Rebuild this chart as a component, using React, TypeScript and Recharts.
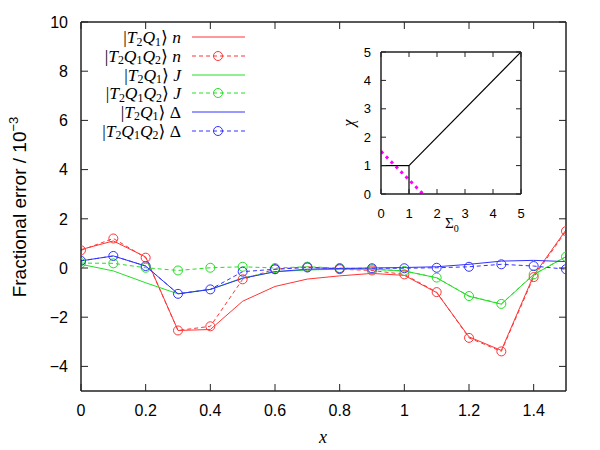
import React from 'react';
import { LineChart, Line, XAxis, YAxis } from 'recharts';

// x positions of the samples
const xs = [0, 0.1, 0.2, 0.3, 0.4, 0.5, 0.6, 0.7, 0.8, 0.9, 1.0, 1.1, 1.2, 1.3, 1.4, 1.5];

// fractional error / 1e-3
const nQ1 = [0.75, 1.1, 0.45, -2.54, -2.5, -1.35, -0.75, -0.45, -0.32, -0.22, -0.3, -1.0, -2.8, -3.35, -0.3, 1.55];
const nQ1Q2 = [0.72, 1.2, 0.42, -2.54, -2.37, -0.46, -0.05, 0.05, -0.05, -0.1, -0.26, -0.98, -2.84, -3.39, -0.37, 1.5];
const jQ1 = [0.15, -0.12, -0.6, -1.05, -0.87, -0.4, -0.15, -0.08, -0.05, -0.05, -0.12, -0.4, -1.15, -1.47, -0.27, 0.46];
const jQ1Q2 = [0.2, 0.19, 0.01, -0.1, 0.01, 0.05, 0.0, 0.05, 0.0, -0.05, -0.12, -0.39, -1.14, -1.46, -0.26, 0.46];
const dQ1 = [0.29, 0.49, 0.08, -1.05, -0.87, -0.42, -0.15, -0.05, -0.02, 0.0, 0.02, 0.05, 0.15, 0.28, 0.31, 0.26];
const dQ1Q2 = [0.29, 0.49, 0.08, -1.05, -0.87, -0.15, -0.05, 0.02, -0.02, -0.01, -0.01, 0.01, 0.05, 0.15, 0.08, -0.05];

const xTicks = [0, 0.2, 0.4, 0.6, 0.8, 1, 1.2, 1.4];
const yTicks = [-4, -2, 0, 2, 4, 6, 8, 10];

// inset: chi vs Sigma_0
const insetTicks = [0, 1, 2, 3, 4, 5];
const boxTop = [{ s: 0, c: 1 }, { s: 1, c: 1 }];
const boxSide = [{ s: 1, c: 0 }, { s: 1, c: 1 }];
const diagonal = [{ s: 1, c: 1 }, { s: 5, c: 5 }];
const magenta = [{ s: 0, c: 1.5 }, { s: 1.5, c: 0 }];

const data = xs.map((x, i) => ({
  x,
  nQ1: nQ1[i],
  nQ1Q2: nQ1Q2[i],
  jQ1: jQ1[i],
  jQ1Q2: jQ1Q2[i],
  dQ1: dQ1[i],
  dQ1Q2: dQ1Q2[i],
}));

const RED = '#ff3535';
const GREEN = '#22e022';
const BLUE = '#3333ff';
const AXIS = '#222';
const SANS = '"Liberation Sans", Arial, sans-serif';
const SERIF = '"Liberation Serif", "DejaVu Serif", serif';

const series = [
  { key: 'nQ1', color: RED, dashed: false, tri: 'Q1', sym: 'n' },
  { key: 'nQ1Q2', color: RED, dashed: true, tri: 'Q1Q2', sym: 'n' },
  { key: 'jQ1', color: GREEN, dashed: false, tri: 'Q1', sym: 'J' },
  { key: 'jQ1Q2', color: GREEN, dashed: true, tri: 'Q1Q2', sym: 'J' },
  { key: 'dQ1', color: BLUE, dashed: false, tri: 'Q1', sym: 'Δ' },
  { key: 'dQ1Q2', color: BLUE, dashed: true, tri: 'Q1Q2', sym: 'Δ' },
];

const circleDot = (color: string) => (props: any) => {
  const { cx, cy, index } = props;
  if (cx == null || cy == null) return <g key={index} />;
  return <circle key={index} cx={cx} cy={cy} r={4.5} fill="none" stroke={color} strokeWidth={1} />;
};

// tick renderers (ticks point inward, gnuplot style)
const makeXTick = (len: number, labelDy: number, size: number, showLabel: boolean, dir: number) => (props: any) => {
  const { x, y, payload } = props;
  return (
    <g>
      <line x1={x} y1={y} x2={x} y2={y + dir * len} stroke={AXIS} strokeWidth={1} />
      {showLabel && (
        <text x={x} y={y + labelDy} textAnchor="middle" fontFamily={SANS} fontSize={size} fill="#000">
          {payload.value}
        </text>
      )}
    </g>
  );
};

const makeYTick = (len: number, labelDx: number, size: number, showLabel: boolean, dir: number) => (props: any) => {
  const { x, y, payload } = props;
  return (
    <g>
      <line x1={x} y1={y} x2={x + dir * len} y2={y} stroke={AXIS} strokeWidth={1} />
      {showLabel && (
        <text x={x - labelDx} y={y} dy="0.36em" textAnchor="end" fontFamily={SANS} fontSize={size} fill="#000">
          {String(payload.value).replace('-', '−')}
        </text>
      )}
    </g>
  );
};

const LegendLabel = ({ tri, sym }: { tri: string; sym: string }) => {
  const sub = { fontSize: '0.68em', position: 'relative', top: '0.2em', lineHeight: 0 } as React.CSSProperties;
  return (
    <span style={{ fontFamily: SERIF, fontSize: 17.5, lineHeight: '16px', whiteSpace: 'nowrap' }}>
      |<i>T</i>
      <span style={sub}>2</span>
      <i>Q</i>
      <span style={sub}>1</span>
      {tri === 'Q1Q2' && (
        <>
          <i>Q</i>
          <span style={sub}>2</span>
        </>
      )}
      ⟩ {sym === 'Δ' ? sym : <i>{sym}</i>}
    </span>
  );
};

const LegendBox = () => (
  <div style={{ position: 'absolute', left: 0, top: 28, width: 260 }}>
    {series.map((s) => (
      <div
        key={s.key}
        style={{ height: 18.7, display: 'flex', alignItems: 'center', justifyContent: 'flex-end', overflow: 'visible' }}
      >
        <LegendLabel tri={s.tri} sym={s.sym} />
        <svg width={64} height={18} style={{ marginLeft: 11, marginRight: 4, flex: 'none' }}>
          <line
            x1={0}
            y1={9}
            x2={53}
            y2={9}
            stroke={s.color}
            strokeWidth={1}
            strokeDasharray={s.dashed ? '4 3' : undefined}
          />
          {s.dashed && <circle cx={26} cy={9} r={4.5} fill="none" stroke={s.color} strokeWidth={1} />}
        </svg>
      </div>
    ))}
  </div>
);

const YLabel = () => (
  <text
    transform="translate(26,207) rotate(-90)"
    textAnchor="middle"
    fontFamily={SANS}
    fontSize={19}
    fill="#000"
  >
    Fractional error / 10
    <tspan dy={-8} fontSize={13}>
      −3
    </tspan>
  </text>
);

const Inset = () => (
  <div style={{ position: 'absolute', left: 341, top: 32, width: 190, height: 200 }}>
    <LineChart width={190} height={200} margin={{ top: 0, right: 0, bottom: 0, left: 0 }}>
      <XAxis
        xAxisId="b"
        type="number"
        dataKey="s"
        domain={[0, 5]}
        ticks={insetTicks}
        allowDataOverflow
        height={38}
        tickSize={0}
        tickMargin={0}
        axisLine={{ stroke: AXIS, strokeWidth: 1.5 }}
        tick={makeXTick(5, 24, 13, true, -1)}
      />
      <XAxis
        xAxisId="t"
        orientation="top"
        type="number"
        dataKey="s"
        domain={[0, 5]}
        ticks={insetTicks}
        allowDataOverflow
        height={20}
        tickSize={0}
        tickMargin={0}
        axisLine={{ stroke: AXIS, strokeWidth: 1.5 }}
        tick={makeXTick(5, 0, 13, false, 1)}
      />
      <YAxis
        yAxisId="l"
        type="number"
        domain={[0, 5]}
        ticks={insetTicks}
        allowDataOverflow
        width={40}
        tickSize={0}
        tickMargin={0}
        axisLine={{ stroke: AXIS, strokeWidth: 1.5 }}
        tick={makeYTick(5, 10, 13, true, 1)}
        label={{
          content: () => (
            <text
              transform="translate(13,91) rotate(-90)"
              textAnchor="middle"
              fontFamily={SERIF}
              fontStyle="italic"
              fontSize={16}
              fill="#000"
            >
              χ
            </text>
          ),
        }}
      />
      <YAxis
        yAxisId="r"
        orientation="right"
        type="number"
        domain={[0, 5]}
        ticks={insetTicks}
        allowDataOverflow
        width={10}
        tickSize={0}
        tickMargin={0}
        axisLine={{ stroke: AXIS, strokeWidth: 1.5 }}
        tick={makeYTick(5, 0, 13, false, -1)}
      />
      <Line xAxisId="b" yAxisId="l" data={magenta} dataKey="c" stroke="#ff00ff" strokeWidth={3} strokeDasharray="3 4" dot={false} isAnimationActive={false} />
      <Line xAxisId="b" yAxisId="l" data={boxTop} dataKey="c" stroke="#000" strokeWidth={1.2} dot={false} isAnimationActive={false} />
      <Line xAxisId="b" yAxisId="l" data={boxSide} dataKey="c" stroke="#000" strokeWidth={1.2} dot={false} isAnimationActive={false} />
      <Line xAxisId="b" yAxisId="l" data={diagonal} dataKey="c" stroke="#000" strokeWidth={1.2} dot={false} isAnimationActive={false} />
    </LineChart>
    <div
      style={{
        position: 'absolute',
        left: 104,
        top: 184,
        fontFamily: SERIF,
        fontSize: 15,
        lineHeight: '15px',
      }}
    >
      Σ<span style={{ fontSize: 10, position: 'relative', top: '0.35em' }}>0</span>
    </div>
  </div>
);

export default function App() {
  return (
    <div style={{ position: 'absolute', left: 0, top: 0, width: 600, height: 450, background: '#fff' }}>
      <LineChart width={600} height={450} data={data} margin={{ top: 0, right: 0, bottom: 0, left: 0 }}>
        <XAxis
          xAxisId="b"
          type="number"
          dataKey="x"
          domain={[0, 1.5]}
          ticks={xTicks}
          allowDataOverflow
          height={59}
          tickSize={0}
          tickMargin={0}
          axisLine={{ stroke: AXIS, strokeWidth: 1.5 }}
          tick={makeXTick(7, 25, 16, true, -1)}
          label={{
            content: () => (
              <text x={323} y={443} textAnchor="middle" fontFamily={SERIF} fontStyle="italic" fontSize={18} fill="#000">
                x
              </text>
            ),
          }}
        />
        <XAxis
          xAxisId="t"
          orientation="top"
          type="number"
          dataKey="x"
          domain={[0, 1.5]}
          ticks={xTicks}
          allowDataOverflow
          height={22}
          tickSize={0}
          tickMargin={0}
          axisLine={{ stroke: AXIS, strokeWidth: 1.5 }}
          tick={makeXTick(7, 0, 16, false, 1)}
        />
        <YAxis
          yAxisId="l"
          type="number"
          domain={[-5, 10]}
          ticks={yTicks}
          allowDataOverflow
          width={81}
          tickSize={0}
          tickMargin={0}
          axisLine={{ stroke: AXIS, strokeWidth: 1.5 }}
          tick={makeYTick(7, 13, 16, true, 1)}
          label={{ content: () => <YLabel /> }}
        />
        <YAxis
          yAxisId="r"
          orientation="right"
          type="number"
          domain={[-5, 10]}
          ticks={yTicks}
          allowDataOverflow
          width={34}
          tickSize={0}
          tickMargin={0}
          axisLine={{ stroke: AXIS, strokeWidth: 1.5 }}
          tick={makeYTick(7, 0, 16, false, -1)}
        />
        {series.map((s) => (
          <Line
            key={s.key}
            xAxisId="b"
            yAxisId="l"
            type="linear"
            dataKey={s.key}
            stroke={s.color}
            strokeWidth={1}
            strokeDasharray={s.dashed ? '4 3' : undefined}
            dot={s.dashed ? circleDot(s.color) : false}
            activeDot={false}
            isAnimationActive={false}
          />
        ))}
      </LineChart>
      <LegendBox />
      <Inset />
    </div>
  );
}
